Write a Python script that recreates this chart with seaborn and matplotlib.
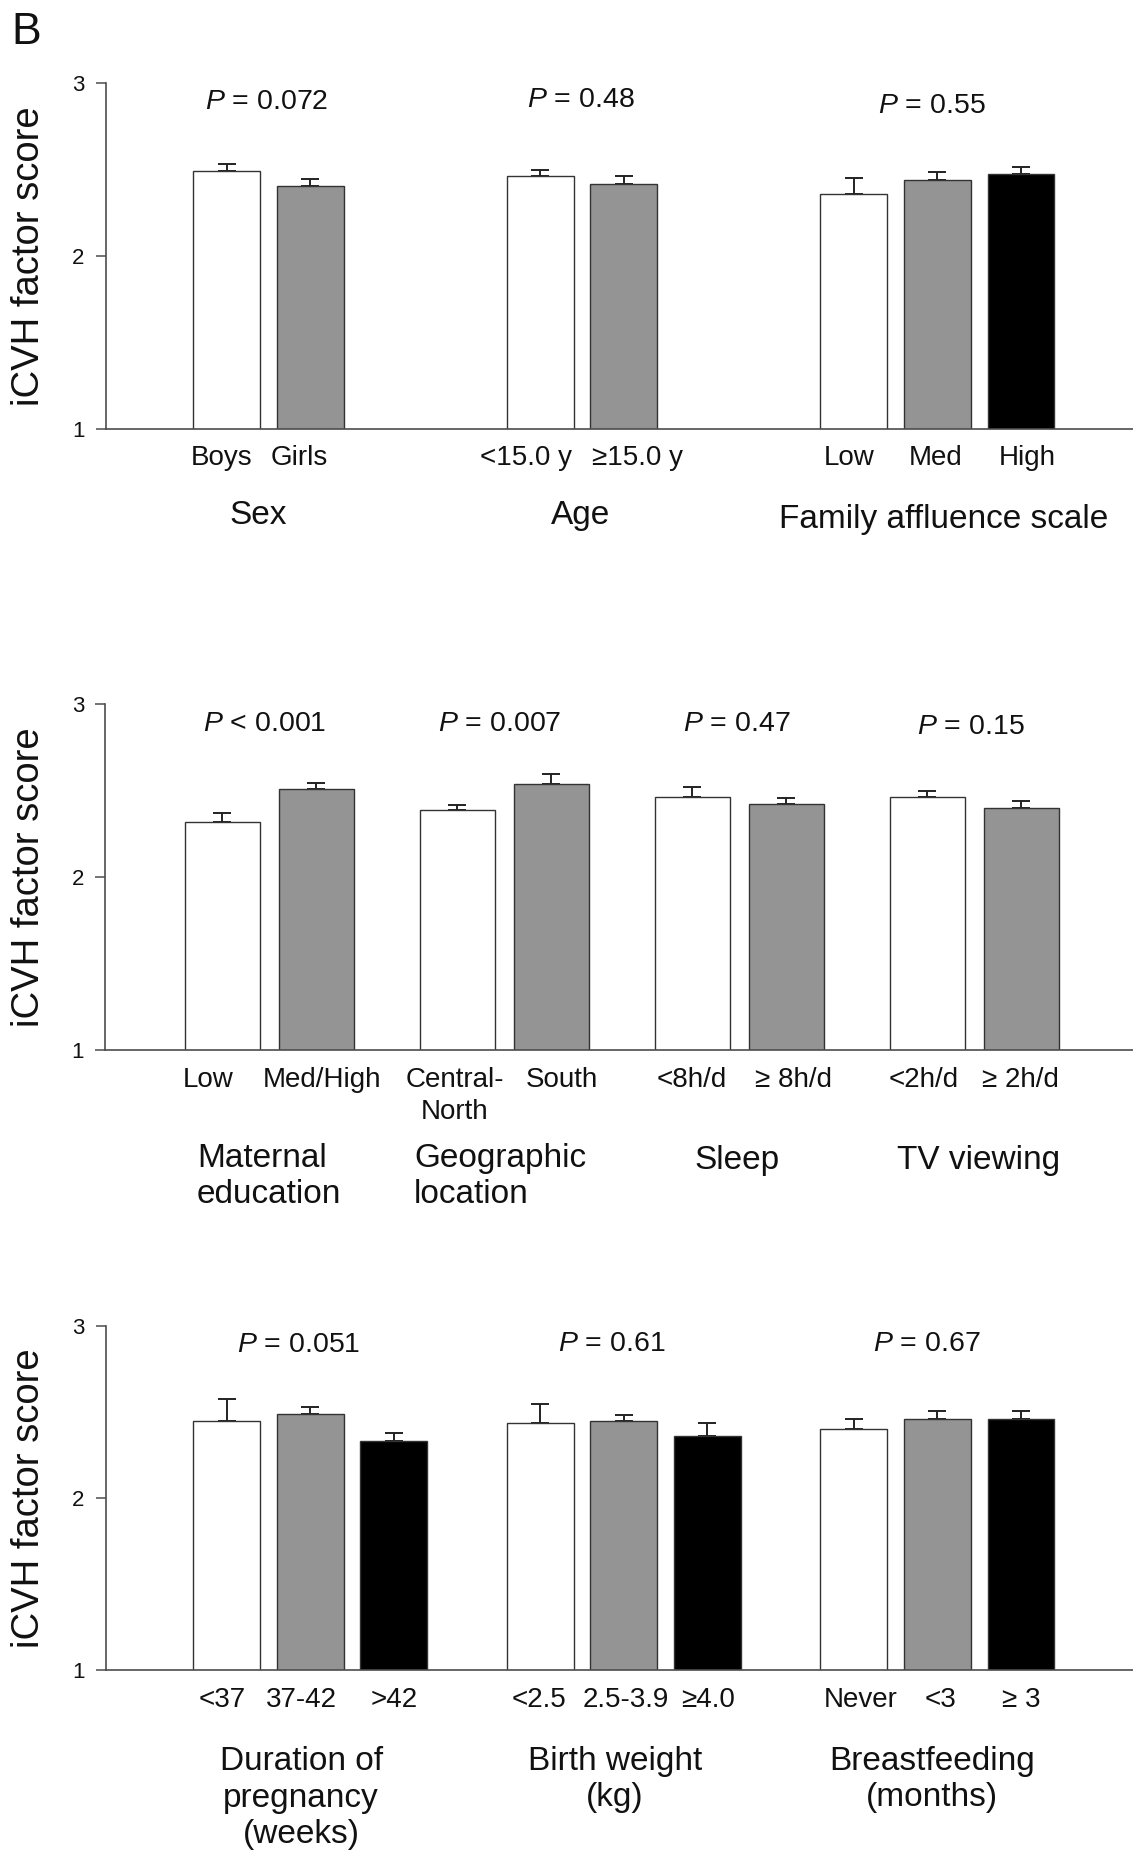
import numpy as np
import pandas as pd
import matplotlib
matplotlib.use("Agg")
import matplotlib.pyplot as plt
import seaborn as sns

# ---------------- data ----------------
# Panel 1: socio-demographic factors
p1_labels = ["Boys", "Girls", "<15.0 y", "\u226515.0 y", "Low", "Med", "High"]
p1_pos = [1.45, 2.45, 5.2, 6.2, 8.95, 9.95, 10.95]
p1_means = [2.488, 2.401, 2.463, 2.415, 2.356, 2.441, 2.471]
p1_err = [0.043, 0.044, 0.031, 0.046, 0.096, 0.041, 0.040]
p1_shade = ["white", "gray", "white", "gray", "white", "gray", "black"]
p1_groups = ["Sex", "Age", "Family affluence scale"]
p1_pvals = ["= 0.072", "= 0.48", "= 0.55"]

# Panel 2: family / lifestyle factors
p2_labels = ["Low", "Med/High", "Central-\nNorth", "South",
             "<8h/d", "\u2265 8h/d", "<2h/d", "\u2265 2h/d"]
p2_pos = [1.25, 2.25, 3.75, 4.75, 6.25, 7.25, 8.75, 9.75]
p2_means = [2.320, 2.507, 2.387, 2.536, 2.464, 2.424, 2.464, 2.397]
p2_err = [0.048, 0.034, 0.029, 0.059, 0.054, 0.033, 0.035, 0.040]
p2_shade = ["white", "gray", "white", "gray", "white", "gray", "white", "gray"]
p2_groups = ["Maternal\neducation", "Geographic\nlocation", "Sleep", "TV viewing"]
p2_pvals = ["< 0.001", "= 0.007", "= 0.47", "= 0.15"]

# Panel 3: perinatal factors
p3_labels = ["<37", "37-42", ">42", "<2.5", "2.5-3.9", "\u22654.0",
             "Never", "<3", "\u2265 3"]
p3_pos = [1.45, 2.45, 3.45, 5.2, 6.2, 7.2, 8.95, 9.95, 10.95]
p3_means = [2.446, 2.487, 2.328, 2.435, 2.446, 2.357, 2.398, 2.458, 2.458]
p3_err = [0.128, 0.039, 0.048, 0.108, 0.033, 0.080, 0.060, 0.049, 0.049]
p3_shade = ["white", "gray", "black", "white", "gray", "black",
            "white", "gray", "black"]
p3_groups = ["Duration of\npregnancy\n(weeks)", "Birth weight\n(kg)",
             "Breastfeeding\n(months)"]
p3_pvals = ["= 0.051", "= 0.61", "= 0.67"]

# ---------------- style ----------------
sns.set_theme(style="ticks")
plt.rcParams["font.family"] = ["Liberation Sans", "DejaVu Sans"]
plt.rcParams["mathtext.fontset"] = "custom"
plt.rcParams["mathtext.rm"] = "Liberation Sans"
plt.rcParams["mathtext.it"] = "Liberation Sans:italic"

palette = {"white": "#ffffff", "gray": "#949494", "black": "#000000"}
axis_col = "#4d4d4d"
text_col = "#111111"

W, H = 1133, 1851
fig = plt.figure(figsize=(W / 100, H / 100), dpi=100)


def px_axes(left, top, bottom, right=W):
    return fig.add_axes([left / W, 1 - bottom / H, (right - left) / W,
                         (bottom - top) / H])


panels = [
    dict(rect=(105.5, 82.9, 428.6), xmax=12.29, labels=p1_labels, pos=p1_pos,
         label_x=[1.39, 2.32, 5.03, 6.36, 8.89, 9.93, 11.02],
         means=p1_means, err=p1_err, shade=p1_shade, groups=p1_groups,
         group_x=[1.83, 5.68, 10.03], group_y=[0.50, 0.50, 0.475],
         group_ha=["center"] * 3,
         pvals=p1_pvals, p_x=[1.93, 5.68, 9.89], p_y=[2.848, 2.862, 2.824]),
    dict(rect=(105.0, 704.0, 1050.0), xmax=10.94, labels=p2_labels, pos=p2_pos,
         label_x=[1.10, 2.31, 3.72, 4.86, 6.24, 7.33, 8.71, 9.74],
         means=p2_means, err=p2_err, shade=p2_shade, groups=p2_groups,
         group_x=[0.98, 3.29, 6.73, 9.30], group_y=[0.268, 0.268, 0.364, 0.364],
         group_ha=["left", "left", "center", "center"],
         pvals=p2_pvals, p_x=[1.70, 4.20, 6.72, 9.21],
         p_y=[2.846, 2.846, 2.846, 2.827]),
    dict(rect=(105.5, 1325.7, 1670.0), xmax=12.29, labels=p3_labels, pos=p3_pos,
         label_x=[1.39, 2.34, 3.45, 5.19, 6.22, 7.21, 9.03, 9.99, 10.95],
         means=p3_means, err=p3_err, shade=p3_shade, groups=p3_groups,
         group_x=[2.34, 6.09, 9.89], group_y=[0.255, 0.362, 0.362],
         group_ha=["center"] * 3,
         pvals=p3_pvals, p_x=[2.31, 6.06, 9.82], p_y=[2.848, 2.854, 2.854]),
]

for spec in panels:
    left, top, bottom = spec["rect"]
    ax = px_axes(left, top, bottom)
    df = pd.DataFrame({"pos": spec["pos"], "score": spec["means"],
                       "shade": spec["shade"]})
    sns.barplot(data=df, x="pos", y="score", hue="shade", palette=palette,
                native_scale=True, dodge=False, width=0.8, errorbar=None,
                edgecolor="#333333", linewidth=1.0, legend=False, ax=ax,
                zorder=2)
    # upper standard-error whiskers
    ax.errorbar(spec["pos"], spec["means"],
                yerr=[np.zeros(len(spec["err"])), spec["err"]],
                fmt="none", ecolor="#222222", elinewidth=1.4, capsize=6.5,
                capthick=1.4, zorder=1)

    ax.set_xlim(0, spec["xmax"])
    ax.set_ylim(1, 3)
    ax.set_yticks([1, 2, 3])
    ax.set_yticklabels(["1", "2", "3"])
    ax.set_xticks(spec["label_x"])
    ax.set_xticklabels(spec["labels"], fontsize=20, color=text_col,
                       linespacing=1.3)
    ax.tick_params(axis="x", length=0, pad=12)
    ax.tick_params(axis="y", length=7, width=1.1, color=axis_col,
                   labelsize=16, labelcolor=text_col, pad=8)
    ax.set_xlabel("")
    ax.set_ylabel("")
    sns.despine(ax=ax, top=True, right=True)
    for side in ("left", "bottom"):
        ax.spines[side].set_color(axis_col)
        ax.spines[side].set_linewidth(1.2)
    ax.patch.set_alpha(0)

    for txt, x, y in zip(spec["pvals"], spec["p_x"], spec["p_y"]):
        ax.text(x, y, r"$\it{P}$ " + txt, ha="center", va="baseline",
                fontsize=20.5, color=text_col)

    for txt, x, y, ha in zip(spec["groups"], spec["group_x"],
                             spec["group_y"], spec["group_ha"]):
        ax.text(x, y, txt, ha=ha, va="center", fontsize=24,
                color=text_col, linespacing=1.22, clip_on=False,
                multialignment=ha)

    fig.text(29 / W, 1 - (top + bottom) / 2 / H, "iCVH factor score",
             rotation=90, ha="center", va="center", fontsize=27.5,
             color=text_col)

fig.text(11 / W, 1 - 44 / H, "B", ha="left", va="baseline", fontsize=32,
         color=text_col)

fig.savefig("out.png", dpi=100, facecolor="white")
